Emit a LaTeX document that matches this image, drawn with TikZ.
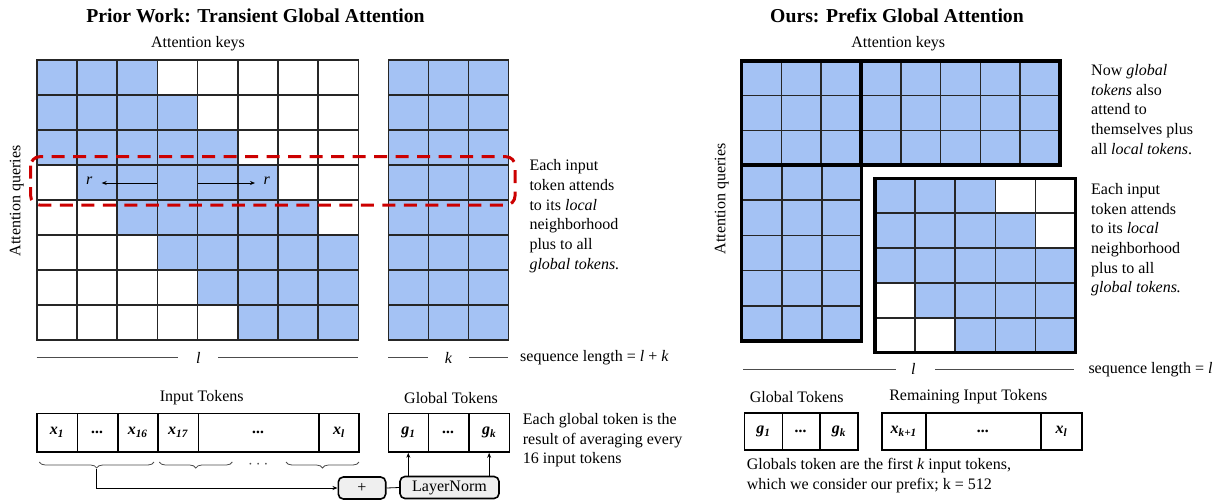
\documentclass[tikz,border=0pt]{standalone}
\usepackage{fontspec}
\setmainfont{Liberation Serif}
\usetikzlibrary{decorations.pathreplacing,arrows.meta}
\definecolor{cellblue}{HTML}{A4C2F4}
\definecolor{dashred}{HTML}{CC0000}
\definecolor{boxgray}{HTML}{EFEFEF}
\begin{document}
\begin{tikzpicture}[x=1pt,y=-1pt,
  body/.style={font=\fontsize{16}{19.7}\selectfont, inner sep=0pt},
  ttl/.style={font=\fontsize{19.7}{23}\selectfont\bfseries, inner sep=0pt},
  para/.style={body, align=left, anchor=north west},
  cellline/.style={line width=1.6pt, draw=black!85, line cap=rect},
  thickline/.style={line width=3.4pt, draw=black, line join=miter},
  tok/.style={draw, line width=1.6pt, inner sep=0pt, minimum height=38.4pt,
    font=\fontsize{16}{19}\selectfont\bfseries\itshape},
  opbox/.style={draw, line width=1.6pt, fill=boxgray, rounded corners=5pt,
    inner sep=0pt, minimum height=22pt, font=\fontsize{16}{19}\selectfont},
  axisline/.style={line width=0.9pt, draw=black!70},
  arr/.style={-{Stealth[length=5pt,width=4pt]}, line width=0.8pt},
  bracestyle/.style={decorate, decoration={brace, mirror, amplitude=6pt}, line width=0.8pt, draw=black!70}
]
\useasboundingbox (0,0) rectangle (1227,499);

% ---------------- LEFT PANEL ----------------
\node[ttl] (t1) at (255.5,16) {Prior Work: Transient Global Attention};
\node[body] (k1) at (198,43.3) {Attention keys};
\node[body, rotate=90] (q1) at (16.7,201) {Attention queries};

% local grid 8x8
\foreach \i in {0,...,7}{
  \foreach \j in {0,...,7}{
    \pgfmathtruncatemacro\d{abs(\i-\j)}
    \ifnum\d<3 \fill[cellblue] (36.7+\j*40.2,60+\i*35) rectangle ++(40.2,35);\fi
  }
}
\foreach \j in {0,...,8} \draw[cellline] (36.7+\j*40.2,60) -- ++(0,280);
\foreach \i in {0,...,8} \draw[cellline] (36.7,60+\i*35) -- ++(321.6,0);

% global grid 8x3
\fill[cellblue] (388.3,60) rectangle (508.3,340);
\foreach \j in {0,...,3} \draw[cellline] (388.3+\j*40,60) -- ++(0,280);
\foreach \i in {0,...,8} \draw[cellline] (388.3,60+\i*35) -- ++(120,0);

% red dashed window
\draw[dashred, line width=3pt, dash pattern=on 13pt off 8.5pt, rounded corners=9pt]
  (30.7,156.7) rectangle (515,205);

% r arrows
\node[body, font=\fontsize{16}{19}\selectfont\itshape] (rl) at (89.3,181) {r};
\node[body, font=\fontsize{16}{19}\selectfont\itshape] (rr) at (266.7,181) {r};
\coordinate (als) at (157.3,183);
\coordinate (ale) at (101.7,183);
\coordinate (ars) at (197.7,183);
\coordinate (are) at (255,183);
\draw[arr, line width=0.7pt] (als) -- (ale);
\draw[arr, line width=0.7pt] (ars) -- (are);

% axis labels
\node[body, font=\fontsize{16}{19}\selectfont\itshape] (l1) at (198.3,357.7) {l};
\draw[axisline] (36.7,357.7) -- (178.3,357.7);
\draw[axisline] (218.3,357.7) -- (358.3,357.7);
\node[body, font=\fontsize{16}{19}\selectfont\itshape] (kk) at (448.3,357.7) {k};
\draw[axisline] (388.3,357.7) -- (428.3,357.7);
\draw[axisline] (469.3,357.7) -- (508.3,357.7);
\node[body, anchor=west] (sl1) at (520,357.7) {sequence length = \textit{l} + \textit{k}};

\node[para] (d1) at (529.3,159.5) {Each input\\token attends\\to its \textit{local}\\neighborhood\\plus to all\\\textit{global tokens.}};

% tokens
\node[body] (it) at (201.7,397.7) {Input Tokens};
\node[body] (gt) at (451,397.7) {Global Tokens};
\node[tok, minimum width=40.6pt] (x1) at (57,432.5) {x\textsubscript{1}};
\node[tok, minimum width=40.4pt] (x2) at (97.5,432.5) {...};
\node[tok, minimum width=40pt] (x16) at (137.7,432.5) {x\textsubscript{16}};
\node[tok, minimum width=40.6pt] (x17) at (178,432.5) {x\textsubscript{17}};
\node[tok, minimum width=120.7pt] (xd) at (258.65,432.5) {...};
\node[tok, minimum width=40pt] (xl) at (339,432.5) {x\textsubscript{l}};
\node[tok, minimum width=40pt] (g1) at (408.3,432.8) {g\textsubscript{1}};
\node[tok, minimum width=40.7pt] (gd) at (448.65,432.8) {...};
\node[tok, minimum width=40.3pt] (gk) at (489.15,432.8) {g\textsubscript{k}};

\node[para] (d2) at (522.7,413) {Each global token is the\\result of averaging every\\16 input tokens};

% braces
\draw[bracestyle] (39.3,462) -- (154,462);
\draw[bracestyle] (159.3,462) -- (232.3,462);
\draw[bracestyle] (286,462) -- (359,462);
\node[body, text=black!70] (bd) at (258.3,464.3) {$\cdots$};
\coordinate (b1) at (96.7,469);

\node[opbox, minimum width=47.4pt] (plus) at (362,488) {+};
\node[opbox, minimum width=99pt] (ln) at (449.5,487.5) {LayerNorm};
\draw[arr] (b1) |- (plus.west);
\draw[line width=0.8pt] (plus.east) -- (ln.west);
\draw[arr] (ln.north -| g1.south) -- (g1.south);
\draw[arr] (ln.north -| gk.south) -- (gk.south);

% ---------------- RIGHT PANEL ----------------
\node[ttl] (t2) at (897,16) {Ours: Prefix Global Attention};
\node[body] (k2) at (898.3,43.3) {Attention keys};
\node[body, rotate=90] (q2) at (721.7,199) {Attention queries};

% top block (global rows) 3x8
\fill[cellblue] (741.7,61) rectangle (1060,165);
\foreach \j in {1,...,7} \draw[cellline] (741.7+\j*39.79,61) -- ++(0,104);
\foreach \i in {1,2} \draw[cellline] (741.7,61+\i*34.67) -- (1060,61+\i*34.67);
% left block 5x3
\fill[cellblue] (741.7,165) rectangle (861.7,341);
\foreach \j in {1,2} \draw[cellline] (741.7+\j*40,165) -- ++(0,176);
\foreach \i in {1,...,4} \draw[cellline] (741.7,165+\i*35.2) -- ++(120,0);
\draw[thickline] (741.7,61) rectangle (1060,165);
\draw[thickline] (861.1,61) -- (861.1,165);
\draw[thickline] (741.7,165) rectangle (861.7,341);

% local block 5x5
\foreach \i in {0,...,4}{
  \foreach \j in {0,...,4}{
    \pgfmathtruncatemacro\d{abs(\i-\j)}
    \ifnum\d<3 \fill[cellblue] (875+\j*40.14,178.3+\i*34.88) rectangle ++(40.14,34.88);\fi
  }
}
\foreach \j in {1,...,4} \draw[cellline] (875+\j*40.14,178.3) -- ++(0,174.4);
\foreach \i in {1,...,4} \draw[cellline] (875,178.3+\i*34.88) -- ++(200.7,0);
\draw[thickline] (875,178.3) rectangle (1075.7,352.7);

\node[para] (d3) at (1091,64) {Now \textit{global}\\\textit{tokens} also\\attend to\\themselves plus\\all \textit{local tokens}.};
\node[para] (d4) at (1091,183) {Each input\\token attends\\to its \textit{local}\\neighborhood\\plus to all\\\textit{global tokens.}};

\node[body, font=\fontsize{16}{19}\selectfont\itshape] (l2) at (913.3,369.3) {l};
\draw[axisline] (743.3,369.3) -- (895.7,369.3);
\draw[axisline] (935,369.3) -- (1074,369.3);
\node[body, anchor=west] (sl2) at (1088.3,369.3) {sequence length = \textit{l}};

\node[body] (gt2) at (796.7,396.7) {Global Tokens};
\node[body] (rt2) at (968.3,396.7) {Remaining Input Tokens};
\node[tok, minimum width=38pt, minimum height=37.3pt] (rg1) at (763.3,431.35) {g\textsubscript{1}};
\node[tok, minimum width=37.7pt, minimum height=37.3pt] (rgd) at (801.15,431.35) {...};
\node[tok, minimum width=37.7pt, minimum height=37.3pt] (rgk) at (838.85,431.35) {g\textsubscript{k}};
\node[tok, minimum width=44pt, minimum height=37.3pt] (rx1) at (903.7,431.35) {x\textsubscript{k+1}};
\node[tok, minimum width=115.3pt, minimum height=37.3pt] (rxd) at (983.35,431.35) {...};
\node[tok, minimum width=40.7pt, minimum height=37.3pt] (rxl) at (1061.35,431.35) {x\textsubscript{l}};

\node[para] (d5) at (746.7,458) {Globals token are the first \textit{k} input tokens,\\which we consider our prefix; k = 512};
\end{tikzpicture}
\end{document}
